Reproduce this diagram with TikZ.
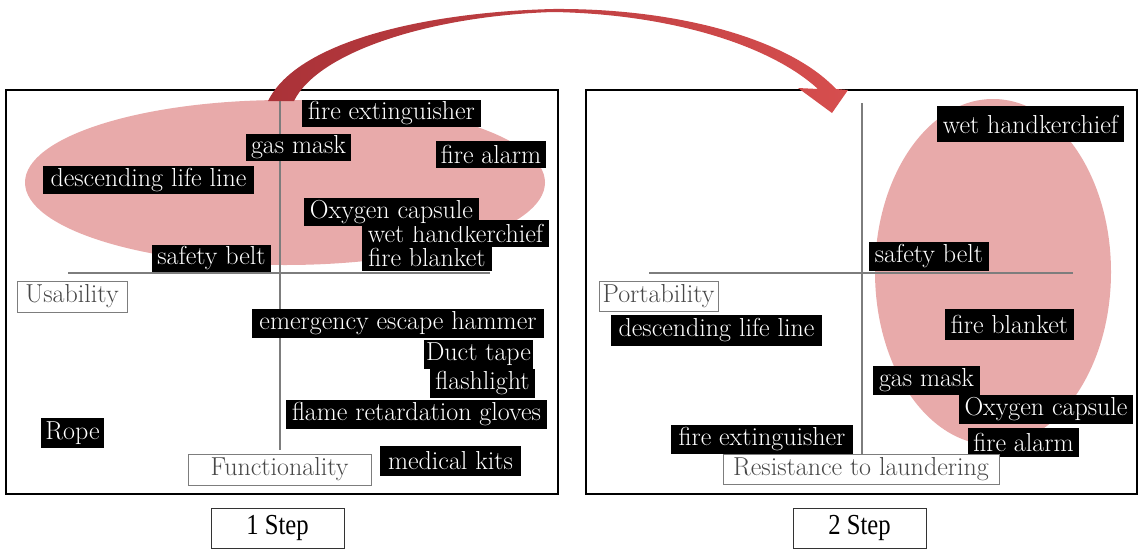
\documentclass[tikz,border=0pt]{standalone}
\usepackage{fontspec}
\newfontfamily\stepfont{Liberation Serif}
\newcommand\tagfont{\fontsize{26}{30}\selectfont}
\definecolor{blobpink}{RGB}{232,170,170}
\definecolor{axisgray}{RGB}{125,125,125}
\definecolor{arrowdark}{RGB}{170,50,56}
\definecolor{arrowlight}{RGB}{214,78,78}
\begin{document}
\begin{tikzpicture}[x=1pt,y=-1pt,
  panel/.style={draw=black, line width=1.4pt},
  blob/.style={fill=blobpink},
  axis/.style={draw=axisgray, line width=1.3pt},
  tag/.style={fill=black, text=white, inner sep=0pt, font=\tagfont},
  title/.style={draw=axisgray, fill=white, line width=0.9pt, inner sep=0pt, text=black!72, font=\tagfont},
  stepbox/.style={draw=black!80, line width=0.9pt, minimum width=133pt, minimum height=40pt, inner sep=0pt, font=\stepfont\fontsize{29}{32}\selectfont},
]
\useasboundingbox (0,0) rectangle (1143,549);

% ---- panel 1: usability vs functionality ----
\draw[panel] (6,90) rectangle (558,494);
\fill[blob] (285,182.5) ellipse [x radius=260, y radius=82.5];
\coordinate (v1top) at (280,100);
\coordinate (v1bot) at (280,450);
\coordinate (h1l) at (68,273);
\coordinate (h1r) at (490,273);
\draw[axis] (v1top) -- (v1bot);
\draw[axis] (h1l) -- (h1r);

\node[tag, minimum width=187, minimum height=27] (wh1) at (455.5,233.5) {wet handkerchief};
\node[tag, minimum width=179, minimum height=27] (fe1) at (391.5,113.5) {fire extinguisher};
\node[tag, minimum width=105, minimum height=27] (gm1) at (298.5,147.5) {gas mask};
\node[tag, minimum width=110, minimum height=27] (fa1) at (491,154.5) {fire alarm};
\node[tag, minimum width=211, minimum height=28] (dl1) at (148.5,180) {descending life line};
\node[tag, minimum width=175, minimum height=28] (oc1) at (391.5,212) {Oxygen capsule};
\node[tag, minimum width=130, minimum height=27] (fb1) at (427,257.5) {fire blanket};
\node[tag, minimum width=119, minimum height=27] (sb1) at (211.5,258.5) {safety belt};
\node[title, minimum width=110, minimum height=31] (use) at (72,296.5) {Usability};
\node[tag, minimum width=292, minimum height=29] (eh1) at (398,323.5) {emergency escape hammer};
\node[tag, minimum width=109, minimum height=29] (dt1) at (478.5,354.5) {Duct tape};
\node[tag, minimum width=105, minimum height=29] (fl1) at (482.5,383.5) {flashlight};
\node[tag, minimum width=261, minimum height=29] (fg1) at (416.5,414.5) {flame retardation gloves};
\node[tag, minimum width=63, minimum height=30] (rp1) at (72.5,433) {Rope};
\node[tag, minimum width=141, minimum height=30] (mk1) at (450.5,461) {medical kits};
\node[title, minimum width=183, minimum height=31] (func) at (279.5,469.5) {Functionality};

% ---- panel 2: portability vs resistance to laundering ----
\draw[panel] (586,90) rectangle (1137,494);
\fill[blob] (993,272) ellipse [x radius=118, y radius=173];
\coordinate (v2top) at (862,103);
\coordinate (v2bot) at (862,455);
\coordinate (h2l) at (649,273);
\coordinate (h2r) at (1073,273);
\draw[axis] (v2top) -- (v2bot);
\draw[axis] (h2l) -- (h2r);

\node[tag, minimum width=187, minimum height=36] (wh2) at (1030.5,124) {wet handkerchief};
\node[tag, minimum width=120, minimum height=29] (sb2) at (929,256.5) {safety belt};
\node[title, minimum width=119, minimum height=30] (port) at (658.5,296) {Portability};
\node[tag, minimum width=211, minimum height=31] (dl2) at (716.5,330.5) {descending life line};
\node[tag, minimum width=129, minimum height=31] (fb2) at (1009.5,324.5) {fire blanket};
\node[tag, minimum width=107, minimum height=29] (gm2) at (926.5,380.5) {gas mask};
\node[tag, minimum width=174, minimum height=29] (oc2) at (1046,409.5) {Oxygen capsule};
\node[tag, minimum width=182, minimum height=29] (fe2) at (762,439.5) {fire extinguisher};
\node[tag, minimum width=111, minimum height=29] (fa2) at (1023.5,442.5) {fire alarm};
\node[title, minimum width=276, minimum height=30] (laund) at (861,469) {Resistance to laundering};

% ---- step captions ----
\node[stepbox] (step1) at (277.5,528) {\scalebox{0.85}[1]{1 Step}};
\node[stepbox] (step2) at (859.5,528) {\scalebox{0.85}[1]{2 Step}};

% ---- curved arrow from step 1 to step 2 ----
\shade[left color=arrowdark, right color=arrowlight]
  (268,101) .. controls (298,40) and (430,12) .. (553,9)
  .. controls (680,8) and (790,40) .. (836,89)
  -- (848,90) -- (832,113) -- (798,88) -- (818,89)
  .. controls (770,45) and (670,14) .. (553,12)
  .. controls (430,16) and (318,52) .. (294,101) -- cycle;
\end{tikzpicture}
\end{document}
